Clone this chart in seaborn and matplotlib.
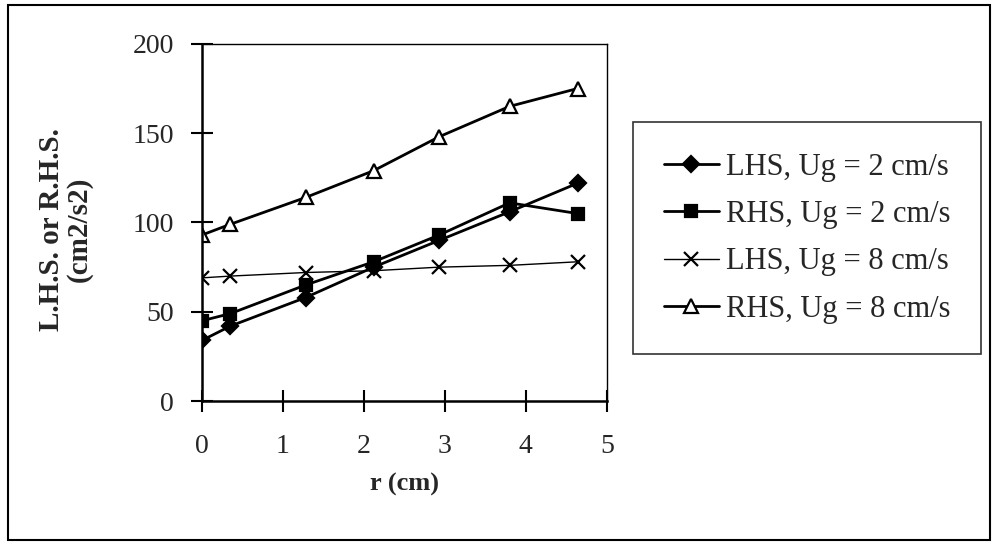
import pandas as pd
import matplotlib.pyplot as plt
import seaborn as sns
from matplotlib.patches import Rectangle

# radial position (cm)
r = [0, 0.35, 1.28, 2.12, 2.93, 3.8, 4.64]

# LHS / RHS values (cm2/s2)
lhs_ug2 = [34, 42, 58, 75, 90, 106, 122]
rhs_ug2 = [45, 49, 65, 78, 93, 111, 105]
lhs_ug8 = [69, 70, 72, 73, 75, 76, 78]
rhs_ug8 = [93, 99, 114, 129, 148, 165, 175]

labels = ["LHS, Ug = 2 cm/s", "RHS, Ug = 2 cm/s", "LHS, Ug = 8 cm/s", "RHS, Ug = 8 cm/s"]

sns.set_style("white")
plt.rcParams['font.family'] = ['Liberation Serif', 'DejaVu Serif']

fig = plt.figure(figsize=(9.97, 5.48), dpi=100)
ax = fig.add_axes([0.2026, 0.268, 0.406, 0.652])

series = [
    (lhs_ug2, "D", "black", 2.0, 8),
    (rhs_ug2, "s", "black", 2.0, 8),
    (lhs_ug8, "x", "black", 1.0, 10),
    (rhs_ug8, "^", "white", 2.0, 10),
]
for (vals, mk, face, lw, ms), lab in zip(series, labels):
    df = pd.DataFrame({"r": r, "val": vals})
    sns.lineplot(data=df, x="r", y="val", ax=ax, color="black", linewidth=lw,
                 marker=mk, markersize=ms, markerfacecolor=face,
                 markeredgecolor="black", markeredgewidth=1.6, label=lab)

ax.set_xlim(0, 5)
ax.set_ylim(0, 200)
ax.set_xticks([0, 1, 2, 3, 4, 5])
ax.set_yticks([0, 50, 100, 150, 200])

for s in ax.spines.values():
    s.set_color("black")
    s.set_linewidth(1.0)
ax.spines['left'].set_linewidth(1.8)
ax.spines['bottom'].set_linewidth(1.8)

ax.tick_params(axis='both', direction='inout', length=16, width=1.5, color='black',
               labelsize=20, left=True, bottom=True)
ax.tick_params(axis='x', pad=16)
ax.tick_params(axis='y', pad=12)

ax.set_xlabel("r (cm)", fontsize=19, fontweight='bold')
ax.set_ylabel("L.H.S. or R.H.S.\n(cm2/s2)", fontsize=21, fontweight='bold', linespacing=1.0)
ax.xaxis.set_label_coords(0.5, -0.2)
ax.yaxis.set_label_coords(-0.27, 0.48)

leg = ax.legend(loc='upper left', bbox_to_anchor=(633 / 997, 1 - 122 / 548),
                bbox_transform=fig.transFigure, fontsize=22, frameon=True,
                fancybox=False, edgecolor='black', handlelength=1.8,
                labelspacing=0.6, borderpad=1.0, handletextpad=0.25,
                borderaxespad=0)
leg.get_frame().set_linewidth(1.2)

fig.patches.append(Rectangle((0.008, 0.0146), 0.985, 0.976, transform=fig.transFigure,
                             fill=False, edgecolor='black', linewidth=1.5))

fig.savefig("out.png", dpi=100)
